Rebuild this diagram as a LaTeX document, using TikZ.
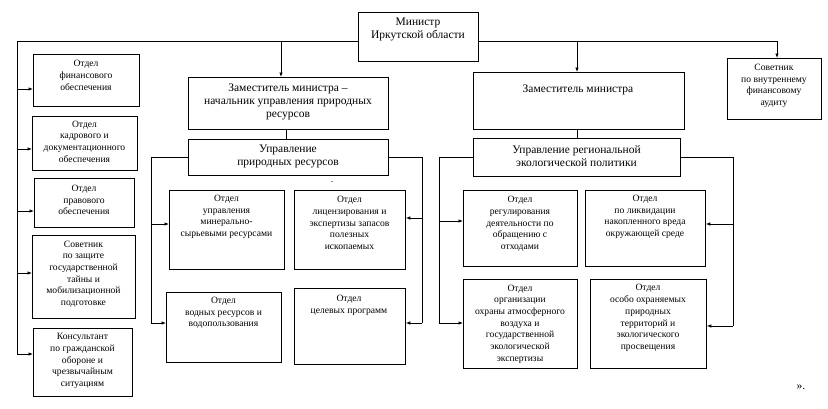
\documentclass[tikz,border=0pt]{standalone}
\usepackage{fontspec}
\setmainfont{Liberation Serif}
\usetikzlibrary{arrows.meta}
\begin{document}
\begin{tikzpicture}[x=1pt,y=-1pt,
  box/.style={draw, line width=0.8pt, inner sep=0pt, anchor=north west},
  stxt/.style={align=center, inner sep=0pt, font=\fontsize{9.6}{11.7}\selectfont},
  btxt/.style={align=center, inner sep=0pt, font=\fontsize{11.5}{13}\selectfont},
  ln/.style={line width=0.8pt},
  arr/.style={line width=0.8pt, -{Latex[length=4.5pt,width=3.6pt]}}]
\useasboundingbox (0,0) rectangle (828,408);
% boxes
\node[box, minimum width=120pt, minimum height=49pt] (min) at (358,12) {};
\node[box, minimum width=200pt, minimum height=52pt] (zam1) at (188,77) {};
\node[box, minimum width=211pt, minimum height=57pt] (zam2) at (473,72) {};
\node[box, minimum width=94pt, minimum height=61pt] (aud) at (727,58) {};
\node[box, minimum width=106pt, minimum height=52pt] (fin) at (33,54) {};
\node[box, minimum width=105pt, minimum height=54pt] (kadr) at (32,116) {};
\node[box, minimum width=100pt, minimum height=49pt] (prav) at (34,178) {};
\node[box, minimum width=103pt, minimum height=83pt] (sov) at (32,235) {};
\node[box, minimum width=99pt, minimum height=68pt] (kons) at (33,328) {};
\node[box, minimum width=200pt, minimum height=36pt] (uprP) at (188,139) {};
\node[box, minimum width=115pt, minimum height=79pt] (minsyr) at (169,190) {};
\node[box, minimum width=111pt, minimum height=79pt] (lic) at (294,190) {};
\node[box, minimum width=115pt, minimum height=70pt] (vodn) at (166,292) {};
\node[box, minimum width=111pt, minimum height=76pt] (tsel) at (294,288) {};
\node[box, minimum width=207pt, minimum height=38pt] (uprR) at (473,138) {};
\node[box, minimum width=114pt, minimum height=76pt] (reg) at (463,190) {};
\node[box, minimum width=120pt, minimum height=76pt] (likv) at (585,190) {};
\node[box, minimum width=114pt, minimum height=89pt] (atm) at (463,279) {};
\node[box, minimum width=116pt, minimum height=89pt] (oopt) at (590,279) {};
% texts
\node[btxt] (minT) at (418,29.5) {Министр\\Иркутской области};
\node[btxt] (zam1T) at (288,102) {Заместитель министра –\\начальник управления природных\\ресурсов};
\node[btxt] (zam2T) at (578,90) {Заместитель министра};
\node[stxt] (audT) at (774,86) {Советник\\по внутреннему\\финансовому\\аудиту};
\node[stxt] (finT) at (86,75.5) {Отдел\\финансового\\обеспечения};
\node[stxt] (kadrT) at (84.5,141.5) {Отдел\\кадрового и\\документационного\\обеспечения};
\node[stxt] (pravT) at (84,200) {Отдел\\правового\\обеспечения};
\node[stxt] (sovT) at (83.5,274) {Советник\\по защите\\государственной\\тайны и\\мобилизационной\\подготовке};
\node[stxt] (konsT) at (82.5,361) {Консультант\\по гражданской\\обороне и\\чрезвычайным\\ситуациям};
\node[btxt] (uprPT) at (288,156.5) {Управление\\природных ресурсов};
\node[stxt] (minsyrT) at (226.5,217) {Отдел\\управления\\минерально-\\сырьевыми ресурсами};
\node[stxt] (licT) at (349.5,223) {Отдел\\лицензирования и\\экспертизы запасов\\полезных\\ископаемых};
\node[stxt] (vodnT) at (223.5,313) {Отдел\\водных ресурсов и\\водопользования};
\node[stxt] (tselT) at (349,305) {Отдел\\целевых программ};
\node[btxt] (uprRT) at (576.5,156.5) {Управление региональной\\экологической политики};
\node[stxt] (regT) at (520,224) {Отдел\\регулирования\\деятельности по\\обращению с\\отходами};
\node[stxt] (likvT) at (645,217) {Отдел\\по ликвидации\\накопленного вреда\\окружающей среде};
\node[stxt] (atmT) at (520,324) {Отдел\\организации\\охраны атмосферного\\воздуха и\\государственной\\экологической\\экспертизы};
\node[stxt] (ooptT) at (648,318) {Отдел\\особо охраняемых\\природных\\территорий и\\экологического\\просвещения};
\node[stxt] (dot) at (332,182) {.};
\node[btxt] (quote) at (801,387) {».};
% trunk coordinates
\coordinate (L0) at (17,41);
\coordinate (L1) at (17,354);
\coordinate (R0) at (777,41);
\coordinate (t1) at (281,41);
\coordinate (t2) at (577,41);
\draw[ln] (min.west |- L0) -- (L0) -- (L1);
\draw[ln] (min.east |- R0) -- (R0);
\draw[arr] (R0) -- (aud.north -| R0);
\draw[arr] (t1) -- (zam1.north -| t1);
\draw[arr] (t2) -- (zam2.north -| t2);
\draw[arr] (L0 |- 0,89) -- (fin.west |- 0,89);
\draw[arr] (L0 |- 0,149) -- (kadr.west |- 0,149);
\draw[arr] (L0 |- 0,211) -- (prav.west |- 0,211);
\draw[arr] (L0 |- 0,273) -- (sov.west |- 0,273);
\draw[arr] (L1) -- (kons.west |- L1);
% zam -> upr
\draw[ln] (zam1.south -| 286,0) -- (uprP.north -| 286,0);
\draw[ln] (zam2.south -| 577,0) -- (uprR.north -| 577,0);
% uprP branches
\coordinate (pl0) at (151,157);
\coordinate (pl1) at (151,323);
\draw[ln] (uprP.west |- pl0) -- (pl0) -- (pl1);
\draw[arr] (pl0 |- 0,224) -- (minsyr.west |- 0,224);
\draw[arr] (pl1) -- (vodn.west |- pl1);
\coordinate (pr0) at (422,157);
\coordinate (pr1) at (422,323);
\draw[ln] (uprP.east |- pr0) -- (pr0) -- (pr1);
\draw[arr] (pr0 |- 0,218) -- (lic.east |- 0,218);
\draw[arr] (pr1) -- (tsel.east |- pr1);
% uprR branches
\coordinate (rl0) at (439,157);
\coordinate (rl1) at (439,323);
\draw[ln] (uprR.west |- rl0) -- (rl0) -- (rl1);
\draw[arr] (rl0 |- 0,221) -- (reg.west |- 0,221);
\draw[arr] (rl1) -- (atm.west |- rl1);
\coordinate (rr0) at (733,157);
\coordinate (rr1) at (733,326);
\draw[ln] (uprR.east |- rr0) -- (rr0) -- (rr1);
\draw[arr] (rr0 |- 0,224) -- (likv.east |- 0,224);
\draw[arr] (rr1) -- (oopt.east |- rr1);
\end{tikzpicture}
\end{document}
